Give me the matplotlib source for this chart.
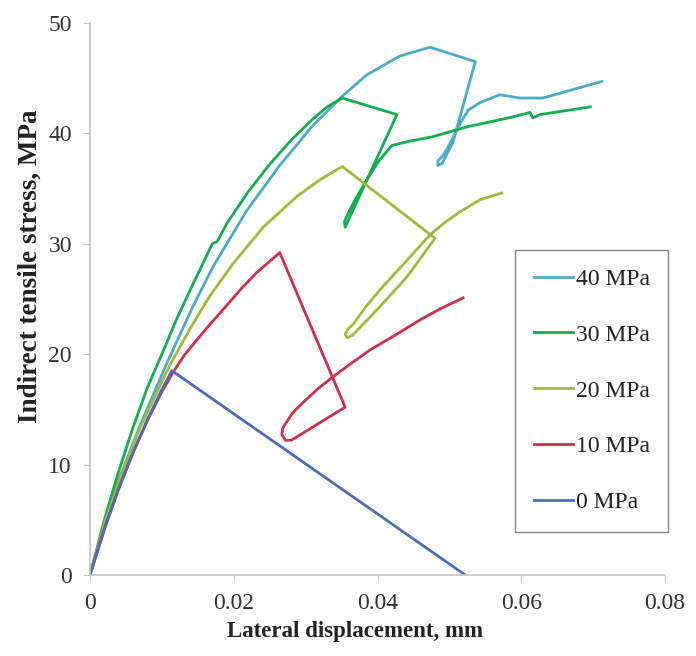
import numpy as np
import matplotlib.pyplot as plt

# data (lateral displacement in mm, stress in MPa)
x_40 = [0, 0.002, 0.004, 0.007, 0.0107, 0.0143, 0.0171, 0.0218, 0.0264, 0.0310, 0.0350, 0.0385, 0.0431, 0.0473,
        0.0536, 0.0505, 0.0490, 0.0484, 0.0484,
        0.0490, 0.0497, 0.0515, 0.0526, 0.0543, 0.0570, 0.0598, 0.0630, 0.0668, 0.0712]
y_40 = [0, 4.6, 8.6, 13.6, 19.2, 24.3, 27.9, 33.0, 37.1, 40.7, 43.3, 45.3, 47.0, 47.8,
        46.5, 39.2, 37.3, 37.1, 37.5,
        37.9, 38.6, 40.9, 42.1, 42.8, 43.5, 43.2, 43.2, 43.9, 44.7]

x_30 = [0, 0.002, 0.004, 0.006, 0.008, 0.010, 0.012, 0.014, 0.016, 0.0170, 0.0177, 0.019, 0.022, 0.025, 0.028,
        0.031, 0.033, 0.0351,
        0.0427, 0.0355, 0.0354,
        0.0358, 0.0369, 0.0387, 0.0403, 0.0420, 0.0445, 0.0477, 0.0525, 0.0589, 0.0612, 0.0616, 0.0626, 0.0696]
y_30 = [0, 5.0, 9.4, 13.4, 17.0, 20.0, 23.1, 25.9, 28.6, 30.0, 30.2, 31.8, 34.7, 37.2, 39.4,
        41.3, 42.4, 43.2,
        41.7, 31.5, 32.0,
        32.6, 34.0, 36.0, 37.6, 38.9, 39.3, 39.7, 40.6, 41.5, 41.9, 41.4, 41.7, 42.4]

x_20 = [0, 0.002, 0.004, 0.007, 0.0111, 0.014, 0.0167, 0.0199, 0.0241, 0.0288, 0.032, 0.0351,
        0.0480, 0.0441, 0.0399, 0.0365, 0.0358, 0.0355,
        0.0359, 0.0366, 0.0385, 0.0403, 0.0441, 0.0473, 0.0495, 0.0515, 0.0543, 0.0573]
y_20 = [0, 4.6, 8.4, 13.4, 19.0, 22.4, 25.3, 28.2, 31.5, 34.3, 35.8, 37.0,
        30.5, 27.0, 24.0, 21.7, 21.5, 21.8,
        22.3, 22.7, 24.4, 25.8, 28.5, 30.8, 32.0, 32.9, 34.0, 34.6]

x_10 = [0, 0.002, 0.004, 0.006, 0.008, 0.010, 0.0115, 0.013, 0.015, 0.0167, 0.019, 0.021, 0.0232, 0.0264,
        0.0355, 0.0300, 0.0280, 0.0272, 0.0267, 0.0268,
        0.0275, 0.0282, 0.0296, 0.0316, 0.0337, 0.0362, 0.0390, 0.0424, 0.0459, 0.0487, 0.0519]
y_10 = [0, 4.2, 7.9, 11.1, 14.0, 16.6, 18.3, 19.8, 21.4, 22.7, 24.4, 25.9, 27.4, 29.2,
        15.2, 13.0, 12.2, 12.2, 12.7, 13.3,
        14.0, 14.7, 15.6, 16.8, 17.9, 19.1, 20.4, 21.7, 23.1, 24.1, 25.1]

x_0 = [0, 0.002, 0.004, 0.006, 0.008, 0.010, 0.0114, 0.0522]
y_0 = [0, 4.1, 7.8, 11.1, 14.1, 16.8, 18.5, 0]

labels = ["40 MPa", "30 MPa", "20 MPa", "10 MPa", "0 MPa"]
colors = ["#4BACC6", "#12AE4F", "#A2BA3C", "#CF3048", "#4A6CB8"]

fig = plt.figure(figsize=(6.96, 6.56), dpi=100)
ax = fig.add_axes([0.1293, 0.1235, 0.8262, 0.8415])
for xs, ys, lab, col in zip([x_40, x_30, x_20, x_10, x_0], [y_40, y_30, y_20, y_10, y_0], labels, colors):
    ax.plot(xs, ys, color=col, lw=2.0, label=lab, solid_joinstyle="round")

ax.set_xlim(0, 0.08)
ax.set_ylim(0, 50)
ax.set_xticks([0, 0.02, 0.04, 0.06, 0.08])
ax.set_xticklabels(["0", "0.02", "0.04", "0.06", "0.08"])
ax.set_yticks([0, 10, 20, 30, 40, 50])
for s in ["top", "right"]:
    ax.spines[s].set_visible(False)
for s in ["left", "bottom"]:
    ax.spines[s].set_color("#C4C4C4")
    ax.spines[s].set_linewidth(1.2)
ax.tick_params(colors="#C4C4C4", length=5, labelcolor="#333333", labelsize=17, pad=8)
for t in ax.get_xticklabels() + ax.get_yticklabels():
    t.set_fontfamily("Liberation Serif")

ax.set_xlabel("Lateral displacement, mm", fontfamily="Liberation Serif", fontweight="bold", fontsize=16.5, color="#222222")
ax.set_ylabel("Indirect tensile stress, MPa", fontfamily="Liberation Serif", fontweight="bold", fontsize=19.5, color="#222222")
ax.xaxis.label.set_va("center")
ax.yaxis.label.set_va("center")
ax.xaxis.set_label_coords(0.461, -0.103)
ax.yaxis.set_label_coords(-0.104, 0.56)

leg = ax.legend(loc="lower right", bbox_to_anchor=(1.006, 0.078), borderaxespad=0,
                prop={"family": "Liberation Serif", "size": 17}, frameon=True, fancybox=False,
                handlelength=1.65, handletextpad=0.1, labelspacing=1.45, borderpad=0.8)
leg.get_frame().set_edgecolor("#666666")
leg.get_frame().set_linewidth(1.0)
for t in leg.get_texts():
    t.set_color("#222222")

fig.savefig("out.png", dpi=100)
